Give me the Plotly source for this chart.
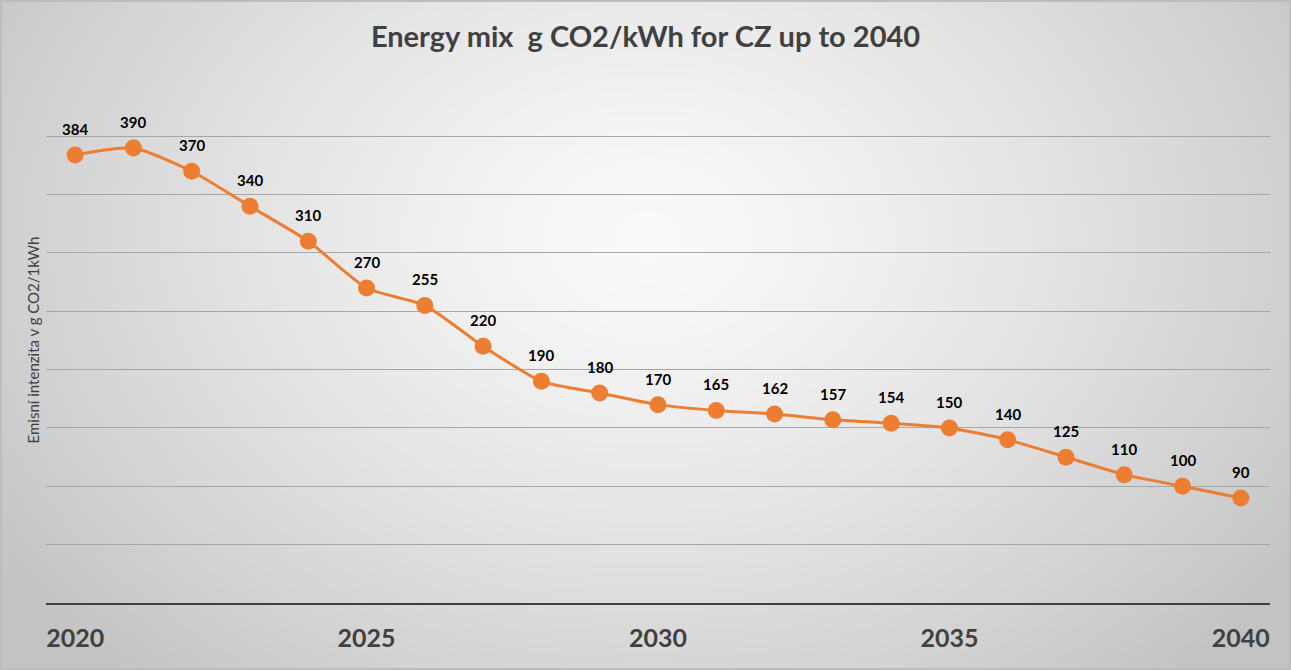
"""Energy mix g CO2/kWh for CZ up to 2040 — line chart with a grey radial backdrop."""

import base64
import struct
import zlib

import numpy as np
import plotly.graph_objects as go

years = list(range(2020, 2041))
emissions = [384, 390, 370, 340, 310, 270, 255, 220, 190, 180, 170,
             165, 162, 157, 154, 150, 140, 125, 110, 100, 90]
x_ticks = [2020, 2025, 2030, 2035, 2040]

ORANGE = "#ED7D31"
DARK = "#404040"
FONT = "Lato, Open Sans, sans-serif"


def gradient_png(w=258, h=134):
    # radial gradient, light centre to grey edges, as an inline PNG
    yy, xx = np.mgrid[0:h, 0:w]
    cx, cy = w * 0.5, h * 0.35
    d = np.sqrt(((xx - cx) / (w * 0.62)) ** 2 + ((yy - cy) / (h * 0.9)) ** 2)
    d = np.clip(d, 0, 1)
    val = (250 - 55 * d ** 1.3).astype(np.uint8)
    raw = b"".join(b"\x00" + bytes(np.repeat(row, 3)) for row in val)

    def chunk(tag, data):
        c = tag + data
        return struct.pack(">I", len(data)) + c + struct.pack(">I", zlib.crc32(c) & 0xFFFFFFFF)

    png = b"\x89PNG\r\n\x1a\n"
    png += chunk(b"IHDR", struct.pack(">IIBBBBB", w, h, 8, 2, 0, 0, 0))
    png += chunk(b"IDAT", zlib.compress(raw, 9))
    png += chunk(b"IEND", b"")
    return "data:image/png;base64," + base64.b64encode(png).decode("ascii")


fig = go.Figure()

fig.add_trace(go.Scatter(
    x=years,
    y=emissions,
    mode="lines+markers",
    line=dict(color=ORANGE, width=3, shape="spline", smoothing=0.6),
    marker=dict(color=ORANGE, size=17),
    hoverinfo="x+y",
    showlegend=False,
))

# value labels above each point
for yr, val in zip(years, emissions):
    fig.add_annotation(
        x=yr, y=val, text=f"<b>{val}</b>", showarrow=False,
        yshift=26, font=dict(family=FONT, size=15, color="#000000"),
    )

fig.update_layout(
    width=1291,
    height=670,
    margin=dict(l=46, r=21, t=77, b=67),
    paper_bgcolor="#e6e6e6",
    plot_bgcolor="rgba(0,0,0,0)",
    images=[dict(
        source=gradient_png(), xref="paper", yref="paper",
        x=-46 / 1224, y=1 + 77 / 526, sizex=1291 / 1224, sizey=670 / 526,
        xanchor="left", yanchor="top", sizing="stretch", layer="below",
    )],
    shapes=[dict(
        type="rect", xref="paper", yref="paper",
        x0=-45 / 1224, x1=1 + 20 / 1224, y0=-66 / 526, y1=1 + 76 / 526,
        line=dict(color="#bdbdbd", width=2), layer="below",
    )],
    title=dict(
        text="<b>Energy mix  g CO2/kWh for CZ up to 2040</b>",
        x=0.5, xanchor="center", y=0.945, yanchor="middle",
        font=dict(family=FONT, size=29, color=DARK),
    ),
    xaxis=dict(
        range=[2019.5, 2040.5],
        tickvals=x_ticks,
        ticktext=[f"<b>{t}</b>" for t in x_ticks],
        tickfont=dict(family=FONT, size=25, color=DARK),
        showgrid=False,
        showline=True, linecolor=DARK, linewidth=2,
        ticks="", ticklabelstandoff=12,
        zeroline=False,
    ),
    yaxis=dict(
        range=[0, 450.8],
        dtick=50,
        showticklabels=False,
        showgrid=True, gridcolor="#a6a6a6", gridwidth=1,
        zeroline=False,
        title=dict(
            text="Emisní intenzita v g CO2/1kWh", standoff=1,
            font=dict(family=FONT, size=15, color=DARK),
        ),
    ),
)

# drop the default 8px page margin so the figure sits at the window corner
fig.write_html(
    "out.html",
    config={"displayModeBar": False},
    post_script="document.body.style.margin='0';",
)
